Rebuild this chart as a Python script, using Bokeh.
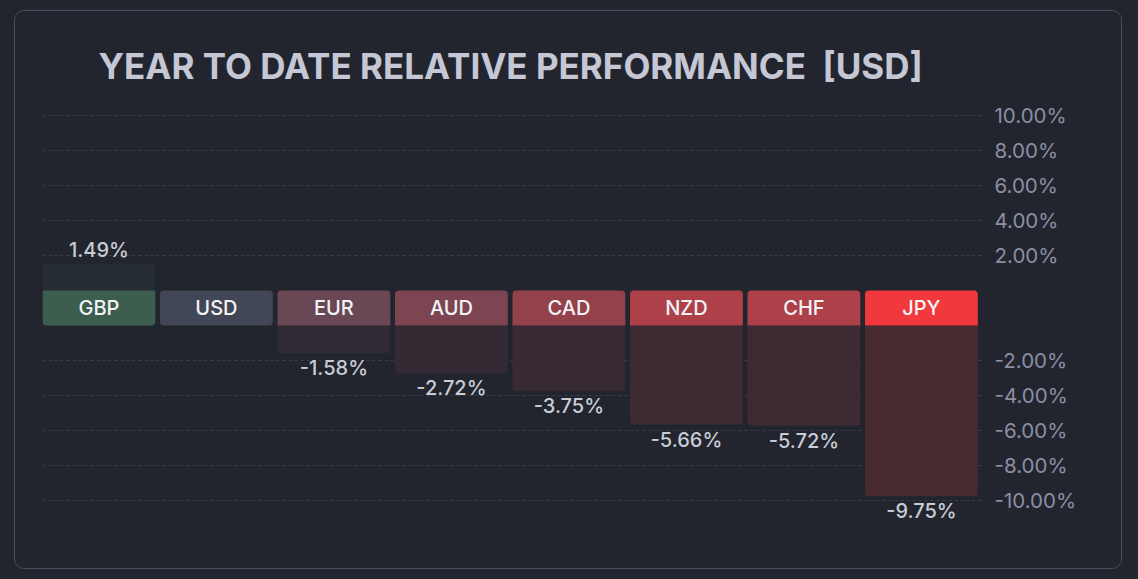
from bokeh.plotting import figure
from bokeh.models import FixedTicker, Range1d, GlobalInlineStyleSheet, ColumnDataSource
from bokeh.core.properties import value
from bokeh.embed import file_html
from bokeh.resources import INLINE

# ---------------- data ----------------
currencies = ["GBP", "USD", "EUR", "AUD", "CAD", "NZD", "CHF", "JPY"]
performance = [1.49, 0.0, -1.58, -2.72, -3.75, -5.66, -5.72, -9.75]
band_colors = ["#3d5d4f", "#424757", "#694755", "#7d4551", "#93414b", "#ad4049", "#ad4049", "#f0383d"]
bar_colors = ["#262e34", "#2a2d38", "#302a35", "#332a34", "#372a33", "#3e2a32", "#3e2a32", "#482a31"]
tick_values = [10, 8, 6, 4, 2, -2, -4, -6, -8, -10]
title_text = "YEAR TO DATE RELATIVE PERFORMANCE \u00a0[USD]"

BAND = 2.0      # height of the label band, in % units
SLOT = 0.96     # fraction of a slot filled by a column


def disp(v):
    return v if v >= 0 else v - BAND


FONT = "Inter"
FONT_MED = "Inter Medium"
BG = "#22252e"

p = figure(width=1108, height=559, output_backend="svg", toolbar_location=None,
           x_range=Range1d(0, len(currencies)), y_range=Range1d(-14.51, 11.03),
           x_axis_location=None, y_axis_location="right",
           min_border_left=27, min_border_right=141, min_border_top=86, min_border_bottom=26)
p.margin = (10, 16, 10, 14)
p.styles = {"border": "1px solid #4a4e60", "border-radius": "10px", "overflow": "hidden"}
p.stylesheets = [GlobalInlineStyleSheet(css="html, body { background-color: %s; margin: 0; }" % BG)]

p.background_fill_color = BG
p.border_fill_color = BG
p.outline_line_color = None

p.title.text = title_text
p.title.text_font = FONT
p.title.text_font_size = "35px"
p.title.text_font_style = "bold"
p.title.text_color = "#c5c7d5"
p.title.offset = 56
p.title.standoff = 21

# axis
disp_ticks = [disp(t) for t in tick_values]
p.yaxis.ticker = FixedTicker(ticks=disp_ticks)
p.yaxis.major_label_overrides = {disp(t): f"{t:.2f}%" for t in tick_values}
p.yaxis.axis_line_color = None
p.yaxis.major_tick_line_color = None
p.yaxis.minor_tick_line_color = None
p.yaxis.major_label_text_font = FONT
p.yaxis.major_label_text_font_size = "20.5px"
p.yaxis.major_label_text_color = "#8a8fa4"
p.yaxis.major_label_standoff = 6

p.xgrid.visible = False
p.ygrid.ticker = FixedTicker(ticks=disp_ticks)
p.ygrid.grid_line_color = "#3a3e4d"
p.ygrid.grid_line_dash = "3 3"
p.ygrid.grid_line_width = 1

n = len(currencies)
idx = list(range(n))
lefts = [i for i in idx]
rights = [i + SLOT for i in idx]
centers = [i + SLOT / 2 for i in idx]

R = 4
# value bars
pos = [i for i in idx if performance[i] > 0]
neg = [i for i in idx if performance[i] < 0]
zero = [i for i in idx if performance[i] == 0]

if pos:
    p.quad(left=[lefts[i] for i in pos], right=[rights[i] for i in pos],
           bottom=0, top=[performance[i] for i in pos],
           fill_color=[bar_colors[i] for i in pos], line_color=None, border_radius=(R, R, 0, 0))
if neg:
    p.quad(left=[lefts[i] for i in neg], right=[rights[i] for i in neg],
           top=-BAND, bottom=[disp(performance[i]) for i in neg],
           fill_color=[bar_colors[i] for i in neg], line_color=None, border_radius=(0, 0, R, R))

# label bands
if pos:
    p.quad(left=[lefts[i] for i in pos], right=[rights[i] for i in pos], top=0, bottom=-BAND,
           fill_color=[band_colors[i] for i in pos], line_color=None, border_radius=(0, 0, R, R))
if neg:
    p.quad(left=[lefts[i] for i in neg], right=[rights[i] for i in neg], top=0, bottom=-BAND,
           fill_color=[band_colors[i] for i in neg], line_color=None, border_radius=(R, R, 0, 0))
if zero:
    p.quad(left=[lefts[i] for i in zero], right=[rights[i] for i in zero], top=0, bottom=-BAND,
           fill_color=[band_colors[i] for i in zero], line_color=None, border_radius=R)

p.text(x=centers, y=[-BAND / 2] * n, text=currencies, text_font=value(FONT_MED),
       text_font_size="20px", text_color="#f2f3f7", text_align="center", text_baseline="middle")

# value labels
vsrc_pos = ColumnDataSource(dict(x=[centers[i] for i in pos], y=[performance[i] for i in pos],
                                 t=[f"{performance[i]:.2f}%" for i in pos]))
vsrc_neg = ColumnDataSource(dict(x=[centers[i] for i in neg], y=[disp(performance[i]) for i in neg],
                                 t=[f"{performance[i]:.2f}%" for i in neg]))
p.text(x="x", y="y", text="t", source=vsrc_pos, y_offset=-14, text_font=value(FONT_MED),
       text_font_size="20px", text_color="#c9ccd6", text_align="center", text_baseline="middle")
p.text(x="x", y="y", text="t", source=vsrc_neg, y_offset=15, text_font=value(FONT_MED),
       text_font_size="20px", text_color="#c9ccd6", text_align="center", text_baseline="middle")

open("out.html", "w").write(file_html(p, INLINE))
